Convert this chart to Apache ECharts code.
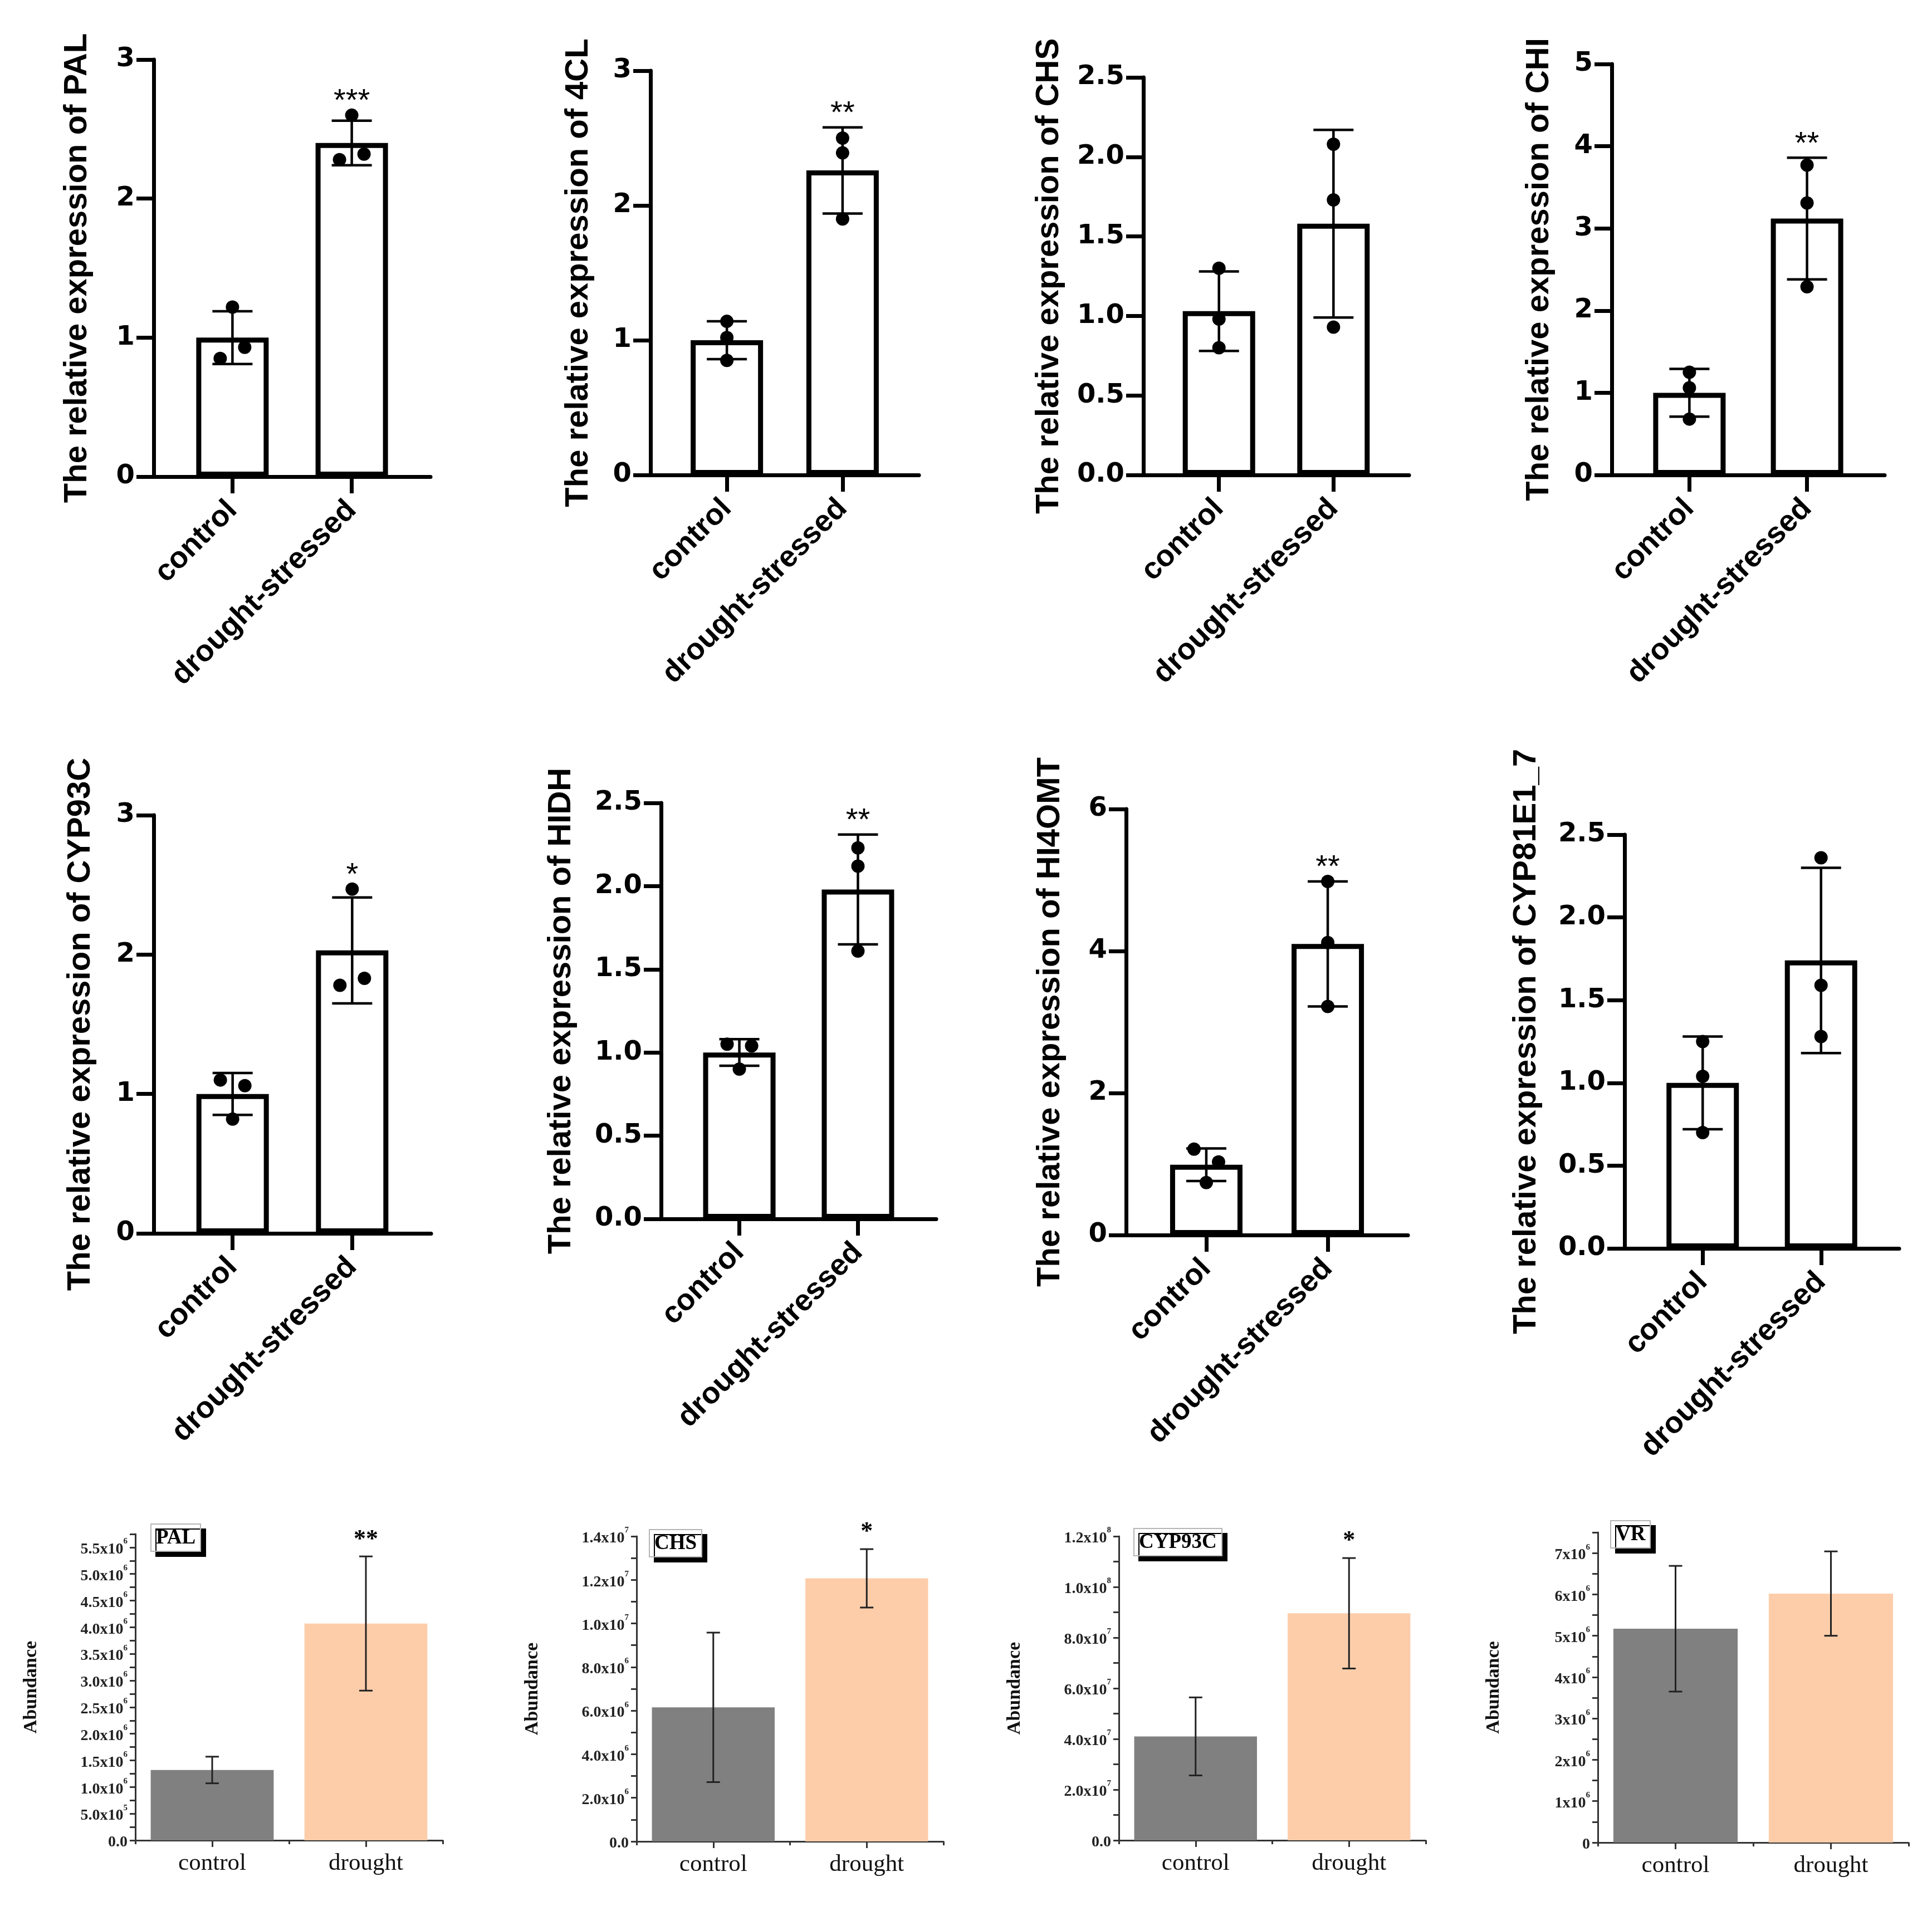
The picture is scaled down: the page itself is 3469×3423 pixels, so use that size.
<!DOCTYPE html>
<html>
<head>
<meta charset="utf-8">
<script src="https://cdn.jsdelivr.net/npm/echarts@6/dist/echarts.min.js"></script>
<style>
html, body { margin: 0; padding: 0; background: #fff; }
#main { width: 3469px; height: 3423px; }
</style>
</head>
<body>
<div id="main"></div>
<script>
// categories
var groups = ['control', 'drought-stressed'];
var groupsShort = ['control', 'drought'];

// qPCR panels (rows 1-2)
var genes = ['PAL', '4CL', 'CHS', 'CHI', 'CYP93C', 'HIDH', 'HI4OMT', 'CYP81E1_7'];
var meanControl = [1.00, 1.00, 1.03, 1.00, 1.00, 1.00, 0.99, 1.00];
var sdControl = [0.19, 0.14, 0.25, 0.29, 0.15, 0.08, 0.23, 0.28];
var meanDrought = [2.40, 2.26, 1.58, 3.12, 2.03, 1.98, 4.10, 1.74];
var sdDrought = [0.16, 0.32, 0.59, 0.74, 0.38, 0.33, 0.88, 0.56];
var repControl = [
    [1.22, 0.85, 0.93],
    [1.14, 1.02, 0.85],
    [1.30, 0.98, 0.80],
    [1.25, 1.06, 0.68],
    [1.10, 1.06, 0.82],
    [1.05, 1.04, 0.90],
    [1.21, 1.03, 0.74],
    [1.25, 1.04, 0.70]
];
var repDrought = [
    [2.60, 2.28, 2.32],
    [2.50, 2.39, 1.90],
    [2.08, 1.73, 0.93],
    [3.77, 3.31, 2.29],
    [2.47, 1.78, 1.83],
    [2.23, 2.12, 1.61],
    [4.98, 4.12, 3.22],
    [2.36, 1.59, 1.28]
];
var qSig = ['***', '**', '', '**', '*', '**', '**', ''];

// tick labels
var ticks0to3 = ['0', '1', '2', '3'];
var ticks0to5 = ['0', '1', '2', '3', '4', '5'];
var ticksEven6 = ['0', '2', '4', '6'];
var ticksHalf = ['0.0', '0.5', '1.0', '1.5', '2.0', '2.5'];

// abundance panels (row 3)
var abGenes = ['PAL', 'CHS', 'CYP93C', 'VR'];
var abControl = [1.32e6, 6.15e6, 4.10e7, 5.17e6];
var abControlSd = [0.25e6, 3.43e6, 1.54e7, 1.52e6];
var abDrought = [4.07e6, 1.207e7, 8.96e7, 6.02e6];
var abDroughtSd = [1.26e6, 1.34e6, 2.18e7, 1.02e6];
var abSig = ['**', '*', '*', ''];
var abTicksPAL = ['0.0', '5.0x10^5', '1.0x10^6', '1.5x10^6', '2.0x10^6', '2.5x10^6', '3.0x10^6',
    '3.5x10^6', '4.0x10^6', '4.5x10^6', '5.0x10^6', '5.5x10^6'];
var abTicksCHS = ['0.0', '2.0x10^6', '4.0x10^6', '6.0x10^6', '8.0x10^6', '1.0x10^7', '1.2x10^7', '1.4x10^7'];
var abTicksCYP = ['0.0', '2.0x10^7', '4.0x10^7', '6.0x10^7', '8.0x10^7', '1.0x10^8', '1.2x10^8'];
var abTicksVR = ['0', '1x10^6', '2x10^6', '3x10^6', '4x10^6', '5x10^6', '6x10^6', '7x10^6'];

var SANS = '"Liberation Sans", Arial, sans-serif';
var SERIF = '"Liberation Serif", "Times New Roman", serif';

var myChart = echarts.init(document.getElementById('main'));

// panel layout [left, top, width, height]
var qBox = [
    [276, 107, 497, 749], [1168, 127, 482, 726], [2053, 139, 477, 714], [2894, 115, 490, 738],
    [276, 1464, 498, 751], [1187, 1442, 494, 747], [2022, 1453, 506, 765], [2917, 1499, 493, 743]
];
var qScale = [[3, 1], [3, 1], [2.5, 0.5], [5, 1], [3, 1], [2.5, 0.5], [6, 2], [2.5, 0.5]];
var qTicks = [ticks0to3, ticks0to3, ticksHalf, ticks0to5, ticks0to3, ticksHalf, ticksEven6, ticksHalf];
var qNameGap = [108, 100, 140, 101, 102, 150, 107, 147];

var abBox = [[243, 2755, 552, 550], [1143, 2759, 551, 548], [2009, 2759, 551, 546], [2869, 2752, 558, 557]];
var abScale = [[5.75e6, 0.25e6, 0.5e6], [1.4e7, 1e6, 2e6], [1.2e8, 1e7, 2e7], [7.5e6, 0.5e6, 1e6]];
var abTicks = [abTicksPAL, abTicksCHS, abTicksCYP, abTicksVR];
var abTagPos = [[271, 2737], [1166, 2747], [2036, 2745], [2892, 2731]];

var grids = [], xAxes = [], yAxes = [], series = [], titles = [];

function errorRender(capHalf, lw, color) {
    return function (params, api) {
        var lo = api.coord([api.value(0), api.value(1)]);
        var hi = api.coord([api.value(0), api.value(2)]);
        var st = { stroke: color, lineWidth: lw };
        return {
            type: 'group',
            children: [
                { type: 'line', shape: { x1: hi[0], y1: hi[1], x2: lo[0], y2: lo[1] }, style: st },
                { type: 'line', shape: { x1: hi[0] - capHalf, y1: hi[1], x2: hi[0] + capHalf, y2: hi[1] }, style: st },
                { type: 'line', shape: { x1: lo[0] - capHalf, y1: lo[1], x2: lo[0] + capHalf, y2: lo[1] }, style: st }
            ]
        };
    };
}

function sigRender(texts, font, lift) {
    return function (params, api) {
        var p = api.coord([api.value(0), api.value(1)]);
        return {
            type: 'text',
            x: p[0],
            y: p[1] - lift,
            style: { text: texts[params.dataIndex], font: font, fill: '#000', align: 'center', verticalAlign: 'middle' }
        };
    };
}

// spread overlapping replicate dots left/right like GraphPad does
function jitter(vals, pxPerUnit) {
    var order = vals.map(function (v, i) { return i; }).sort(function (a, b) { return vals[b] - vals[a]; });
    var off = vals.map(function () { return 0; });
    var i = 0;
    while (i < order.length) {
        var cl = [order[i]];
        while (i + cl.length < order.length &&
            (vals[order[i + cl.length - 1]] - vals[order[i + cl.length]]) * pxPerUnit < 24) {
            cl.push(order[i + cl.length]);
        }
        if (cl.length > 1) {
            cl.sort(function (a, b) { return a - b; });
            cl.forEach(function (k, j) { off[k] = (j - (cl.length - 1) / 2) * 44; });
        }
        i += cl.length;
    }
    return off;
}

genes.forEach(function (gene, k) {
    var b = qBox[k];
    var yMax = qScale[k][0], step = qScale[k][1];
    var labels = qTicks[k];
    grids.push({ left: b[0], top: b[1], width: b[2], height: b[3] });
    xAxes.push({
        gridIndex: k,
        type: 'value',
        min: 0.34,
        max: 2.66,
        splitLine: { show: false },
        axisLine: { show: true, onZero: false, lineStyle: { color: '#000', width: 7 } },
        axisTick: { show: true, customValues: [1, 2], length: 30, lineStyle: { color: '#000', width: 7 } },
        axisLabel: {
            customValues: [1, 2],
            formatter: function (v) { return groups[Math.round(v) - 1]; },
            rotate: 45,
            margin: 52,
            fontFamily: SANS,
            fontWeight: 'bold',
            fontSize: 54,
            color: '#000'
        }
    });
    yAxes.push({
        gridIndex: k,
        type: 'value',
        min: 0,
        max: yMax,
        interval: step,
        splitLine: { show: false },
        axisLine: { show: true, onZero: false, lineStyle: { color: '#000', width: 7 } },
        axisTick: { show: true, length: 31, lineStyle: { color: '#000', width: 7 } },
        axisLabel: {
            margin: 34,
            fontFamily: '"DejaVu Sans", sans-serif',
            fontWeight: 'bold',
            fontSize: 48,
            color: '#000',
            formatter: function (v) { return labels[Math.round(v / step)]; }
        },
        name: 'The relative expression of ' + gene,
        nameLocation: 'middle',
        nameGap: qNameGap[k],
        nameTextStyle: { fontFamily: SANS, fontWeight: 'bold', fontSize: 58, color: '#000' }
    });

    var pxPerUnit = b[3] / yMax;
    var offC = jitter(repControl[k], pxPerUnit);
    var offD = jitter(repDrought[k], pxPerUnit);
    var dots = [];
    repControl[k].forEach(function (v, i) { dots.push({ value: [1, v], symbolOffset: [offC[i], 0] }); });
    repDrought[k].forEach(function (v, i) { dots.push({ value: [2, v], symbolOffset: [offD[i], 0] }); });

    series.push({
        type: 'bar',
        xAxisIndex: k, yAxisIndex: k,
        barWidth: 130,
        itemStyle: { color: '#fff', borderColor: '#000', borderWidth: 9 },
        data: [[1, meanControl[k]], [2, meanDrought[k]]],
        z: 2
    });
    series.push({
        type: 'custom',
        xAxisIndex: k, yAxisIndex: k,
        encode: { x: 0, y: [1, 2] },
        renderItem: errorRender(36, 4.5, '#000'),
        data: [
            [1, meanControl[k] - sdControl[k], meanControl[k] + sdControl[k]],
            [2, meanDrought[k] - sdDrought[k], meanDrought[k] + sdDrought[k]]
        ],
        z: 3
    });
    series.push({
        type: 'scatter',
        xAxisIndex: k, yAxisIndex: k,
        symbol: 'circle',
        symbolSize: 24,
        itemStyle: { color: '#000', opacity: 1 },
        data: dots,
        z: 4
    });
    if (qSig[k]) {
        var top = Math.max(meanDrought[k] + sdDrought[k], Math.max.apply(null, repDrought[k]));
        series.push({
            type: 'custom',
            xAxisIndex: k, yAxisIndex: k,
            encode: { x: 0, y: 1 },
            renderItem: sigRender([qSig[k]], 'normal 56px ' + SANS, 24),
            data: [[2, top]],
            z: 5
        });
    }
});

function supLabel(s) {
    var parts = s.split('^');
    if (parts.length === 1) return '{b|' + s + '}';
    return '{b|' + parts[0] + '}{s|' + parts[1] + '}';
}

abGenes.forEach(function (gene, j) {
    var g = genes.length + j;
    var b = abBox[j];
    var sc = abScale[j];
    var labels = abTicks[j];
    grids.push({ left: b[0], top: b[1], width: b[2], height: b[3] });
    // main category axis: centre ticks + labels
    xAxes.push({
        gridIndex: g,
        type: 'category',
        data: groupsShort,
        position: 'bottom',
        axisLine: { show: true, lineStyle: { color: '#333', width: 3 } },
        axisTick: { show: true, alignWithLabel: true, length: 12, lineStyle: { color: '#333', width: 3 } },
        axisLabel: { margin: 20, fontFamily: SERIF, fontSize: 43, color: '#111' }
    });
    yAxes.push({
        gridIndex: g,
        type: 'value',
        min: 0,
        max: sc[0],
        interval: sc[1],
        splitLine: { show: false },
        axisLine: { show: true, onZero: false, lineStyle: { color: '#333', width: 3 } },
        axisTick: { show: true, length: 10, lineStyle: { color: '#333', width: 3 } },
        axisLabel: {
            margin: 14,
            color: '#222',
            formatter: function (v) {
                var r = v / sc[2];
                if (Math.abs(r - Math.round(r)) > 1e-6) return '';
                var t = labels[Math.round(r)];
                return t === undefined ? '' : supLabel(t);
            },
            rich: {
                b: { fontFamily: SERIF, fontWeight: 'bold', fontSize: 28, lineHeight: 36, verticalAlign: 'bottom', color: '#222' },
                s: { fontFamily: SERIF, fontWeight: 'bold', fontSize: 15, lineHeight: 16, verticalAlign: 'top', color: '#222' }
            }
        },
        name: 'Abundance',
        nameLocation: 'middle',
        nameGap: 170,
        nameTextStyle: { fontFamily: SERIF, fontWeight: 'bold', fontSize: 34, color: '#111' }
    });
    series.push({
        type: 'bar',
        xAxisIndex: g, yAxisIndex: g,
        barWidth: '80%',
        data: [
            { value: abControl[j], itemStyle: { color: '#808080' } },
            { value: abDrought[j], itemStyle: { color: '#FDCDAA' } }
        ],
        z: 2
    });
    series.push({
        type: 'custom',
        xAxisIndex: g, yAxisIndex: g,
        encode: { x: 0, y: [1, 2] },
        renderItem: errorRender(12, 3, '#222'),
        data: [
            [0, abControl[j] - abControlSd[j], abControl[j] + abControlSd[j]],
            [1, abDrought[j] - abDroughtSd[j], abDrought[j] + abDroughtSd[j]]
        ],
        z: 3
    });
    if (abSig[j]) {
        series.push({
            type: 'custom',
            xAxisIndex: g, yAxisIndex: g,
            encode: { x: 0, y: 1 },
            renderItem: sigRender([abSig[j]], 'bold 44px ' + SERIF, 30),
            data: [[1, abDrought[j] + abDroughtSd[j]]],
            z: 5
        });
    }
    titles.push({
        text: gene,
        left: abTagPos[j][0],
        top: abTagPos[j][1],
        padding: [7, 9, 5, 9],
        backgroundColor: '#fff',
        borderColor: '#b5b5b5',
        borderWidth: 2,
        shadowColor: '#000',
        shadowBlur: 0,
        shadowOffsetX: 9,
        shadowOffsetY: 9,
        textStyle: { fontFamily: SERIF, fontWeight: 'bold', fontSize: 37, color: '#000' }
    });
});

// boundary ticks of the abundance panels (second, label-less category axis)
abGenes.forEach(function (gene, j) {
    var g = genes.length + j;
    xAxes.push({
        gridIndex: g,
        type: 'category',
        data: groupsShort,
        position: 'bottom',
        axisLine: { show: false },
        axisTick: { show: true, alignWithLabel: false, length: 7, lineStyle: { color: '#333', width: 3 } },
        axisLabel: { show: false }
    });
});

var option = {
    animation: false,
    backgroundColor: '#fff',
    title: titles,
    grid: grids,
    xAxis: xAxes,
    yAxis: yAxes,
    series: series
};

myChart.setOption(option);
</script>
</body>
</html>
